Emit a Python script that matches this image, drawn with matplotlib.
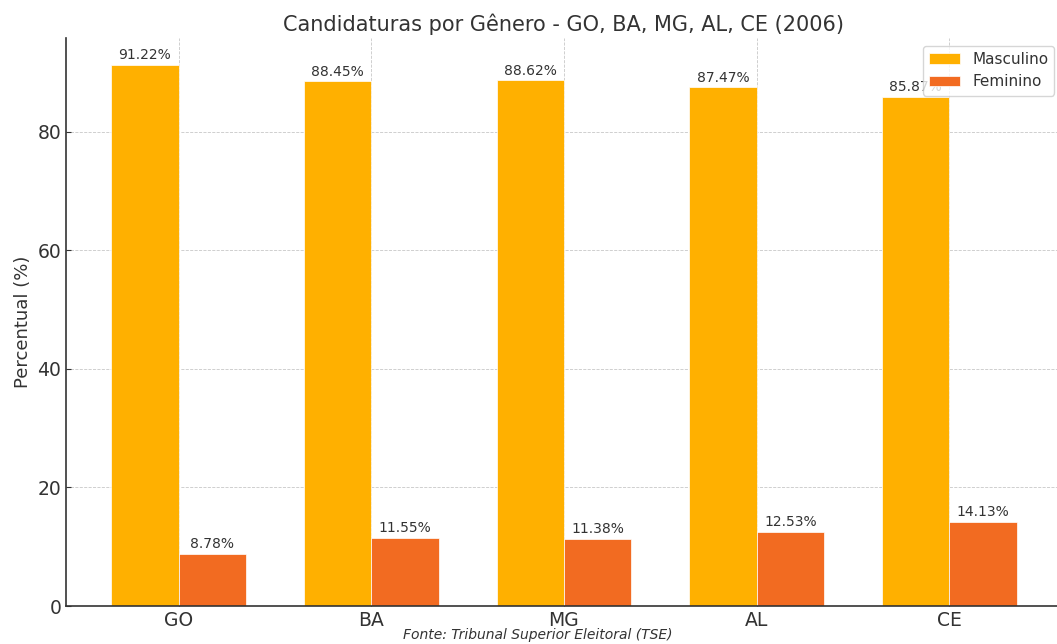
import matplotlib.pyplot as plt
import numpy as np

ESTADOS = ["GO", "BA", "MG", "AL", "CE"]
MASCULINO = [91.22, 88.45, 88.62, 87.47, 85.87]
FEMININO = [8.78, 11.55, 11.38, 12.53, 14.13]

COR_MASC = "#FFB000"
COR_FEM = "#F26B21"
TEXTO = "#333333"


def main():
    plt.rcParams["font.family"] = "DejaVu Sans"
    plt.rcParams["text.color"] = TEXTO
    plt.rcParams["axes.labelcolor"] = TEXTO
    plt.rcParams["xtick.color"] = TEXTO
    plt.rcParams["ytick.color"] = TEXTO

    fig = plt.figure(figsize=(10.57, 6.44), dpi=100)
    ax = fig.add_axes([66 / 1057, 38 / 644, 996 / 1057, 568 / 644])

    x = np.arange(len(ESTADOS))
    w = 0.35
    b1 = ax.bar(x - w / 2, MASCULINO, w, color=COR_MASC, edgecolor="white",
                linewidth=0.5, label="Masculino")
    b2 = ax.bar(x + w / 2, FEMININO, w, color=COR_FEM, edgecolor="white",
                linewidth=0.5, label="Feminino")

    for bars in (b1, b2):
        for bar in bars:
            h = bar.get_height()
            ax.annotate(f"{h:.2f}%", (bar.get_x() + bar.get_width() / 2, h),
                        xytext=(0, 2), textcoords="offset points",
                        ha="center", va="bottom", fontsize=10, color=TEXTO)

    ax.set_xticks(x)
    ax.set_xticklabels(ESTADOS)
    ax.tick_params(direction="in", labelsize=13.5)
    ax.set_ylabel("Percentual (%)", fontsize=13)
    ax.set_title("Candidaturas por Gênero - GO, BA, MG, AL, CE (2006)",
                 fontsize=15, pad=5)
    ax.grid(True, linestyle="--", linewidth=0.6, color="#c8c8c8")
    ax.set_axisbelow(True)
    for s in ("top", "right"):
        ax.spines[s].set_visible(False)
    for s in ("left", "bottom"):
        ax.spines[s].set_color(TEXTO)
        ax.spines[s].set_linewidth(1.2)

    ax.legend(loc="upper right", fontsize=11, bbox_to_anchor=(1.0, 1.0))

    fig.text(538 / 1057, 9 / 644, "Fonte: Tribunal Superior Eleitoral (TSE)",
             ha="center", va="center", fontsize=10, style="italic",
             color=TEXTO)

    fig.savefig("out.png", dpi=100)


if __name__ == "__main__":
    main()
